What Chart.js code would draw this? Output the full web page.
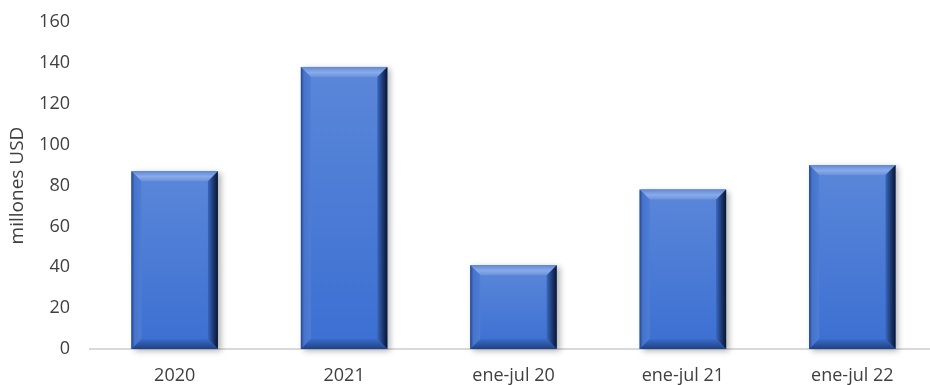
<!DOCTYPE html>
<html>
<head>
<meta charset="utf-8">
<script src="https://cdn.jsdelivr.net/npm/chart.js@4/dist/chart.umd.min.js"></script>
<style>
  html, body { margin: 0; padding: 0; background: #ffffff; overflow: hidden; }
  #wrap { width: 937px; height: 385px; position: relative; }
</style>
</head>
<body>
<div id="wrap"><canvas id="c"></canvas></div>
<script>
const categories = ["2020", "2021", "ene-jul 20", "ene-jul 21", "ene-jul 22"];
const values = [87, 138, 41, 78, 90];
const yTicks = [0, 20, 40, 60, 80, 100, 120, 140, 160];
const yTitle = "millones USD";

const FONT = "'Open Sans', 'Liberation Sans', sans-serif";

const bevelPlugin = {
  id: 'bevel',
  afterDatasetsDraw(chart) {
    const ctx = chart.ctx;
    const meta = chart.getDatasetMeta(0);
    meta.data.forEach(bar => {
      const w = bar.width;
      const L = bar.x - w / 2, R = bar.x + w / 2;
      const T = Math.min(bar.y, bar.base), B = Math.max(bar.y, bar.base);
      const b = 10;
      ctx.save();
      ctx.shadowColor = 'rgba(0,0,0,0.3)';
      ctx.shadowBlur = 6;
      ctx.shadowOffsetX = 3;
      ctx.shadowOffsetY = 2;
      ctx.fillStyle = '#3f6fcb';
      ctx.fillRect(L, T, w, B - T);
      ctx.restore();
      ctx.save();
      let g = ctx.createLinearGradient(0, T, 0, B);
      g.addColorStop(0, '#5b87d9');
      g.addColorStop(1, '#3b6fd2');
      ctx.fillStyle = g;
      ctx.fillRect(L, T, w, B - T);
      g = ctx.createLinearGradient(0, T, 0, T + b);
      g.addColorStop(0, '#5f8ad8');
      g.addColorStop(0.55, '#8aabe8');
      g.addColorStop(1, '#6891dc');
      ctx.fillStyle = g;
      ctx.beginPath();
      ctx.moveTo(L, T); ctx.lineTo(R, T); ctx.lineTo(R - b, T + b); ctx.lineTo(L + b, T + b); ctx.closePath();
      ctx.fill();
      g = ctx.createLinearGradient(L, 0, L + b, 0);
      g.addColorStop(0, '#25468a');
      g.addColorStop(0.3, '#4674cc');
      g.addColorStop(1, '#4e7dd6');
      ctx.fillStyle = g;
      ctx.beginPath();
      ctx.moveTo(L, T); ctx.lineTo(L + b, T + b); ctx.lineTo(L + b, B - b); ctx.lineTo(L, B); ctx.closePath();
      ctx.fill();
      g = ctx.createLinearGradient(R - b, 0, R, 0);
      g.addColorStop(0, '#3867c0');
      g.addColorStop(0.6, '#1b3468');
      g.addColorStop(1, '#0a1530');
      ctx.fillStyle = g;
      ctx.beginPath();
      ctx.moveTo(R, T); ctx.lineTo(R, B); ctx.lineTo(R - b, B - b); ctx.lineTo(R - b, T + b); ctx.closePath();
      ctx.fill();
      g = ctx.createLinearGradient(0, B - b, 0, B);
      g.addColorStop(0, '#3a6cc8');
      g.addColorStop(1, '#1f4185');
      ctx.fillStyle = g;
      ctx.beginPath();
      ctx.moveTo(L, B); ctx.lineTo(R, B); ctx.lineTo(R - b, B - b); ctx.lineTo(L + b, B - b); ctx.closePath();
      ctx.fill();
      ctx.restore();
    });
  }
};

new Chart(document.getElementById('c'), {
  type: 'bar',
  data: {
    labels: categories,
    datasets: [{
      data: values,
      backgroundColor: 'rgba(0,0,0,0)',
      borderWidth: 0,
      barPercentage: 0.51,
      categoryPercentage: 1.0
    }]
  },
  options: {
    responsive: true,
    maintainAspectRatio: false,
    animation: false,
    layout: { padding: { top: 22, right: 0, left: 0, bottom: 0 } },
    plugins: { legend: { display: false }, tooltip: { enabled: false } },
    scales: {
      x: {
        afterFit: (s) => { s.height = 36; },
        grid: { display: false, drawTicks: false },
        border: { display: true, color: '#d9d9d9', width: 2 },
        ticks: { color: '#404040', font: { family: FONT, size: 18 }, padding: 16, maxRotation: 0 }
      },
      y: {
        min: 0, max: 160,
        afterBuildTicks: (s) => { s.ticks = yTicks.map(v => ({ value: v })); },
        afterFit: (s) => { s.width = 90; s.paddingTop = 0; s.paddingBottom = 0; },
        grid: { display: false, drawTicks: false },
        border: { display: false },
        ticks: { color: '#404040', font: { family: FONT, size: 18 }, padding: 20 },
        title: { display: true, text: yTitle, color: '#404040', font: { family: FONT, size: 19 }, padding: { top: 6, bottom: 0 } }
      }
    }
  },
  plugins: [bevelPlugin]
});
</script>
</body>
</html>
